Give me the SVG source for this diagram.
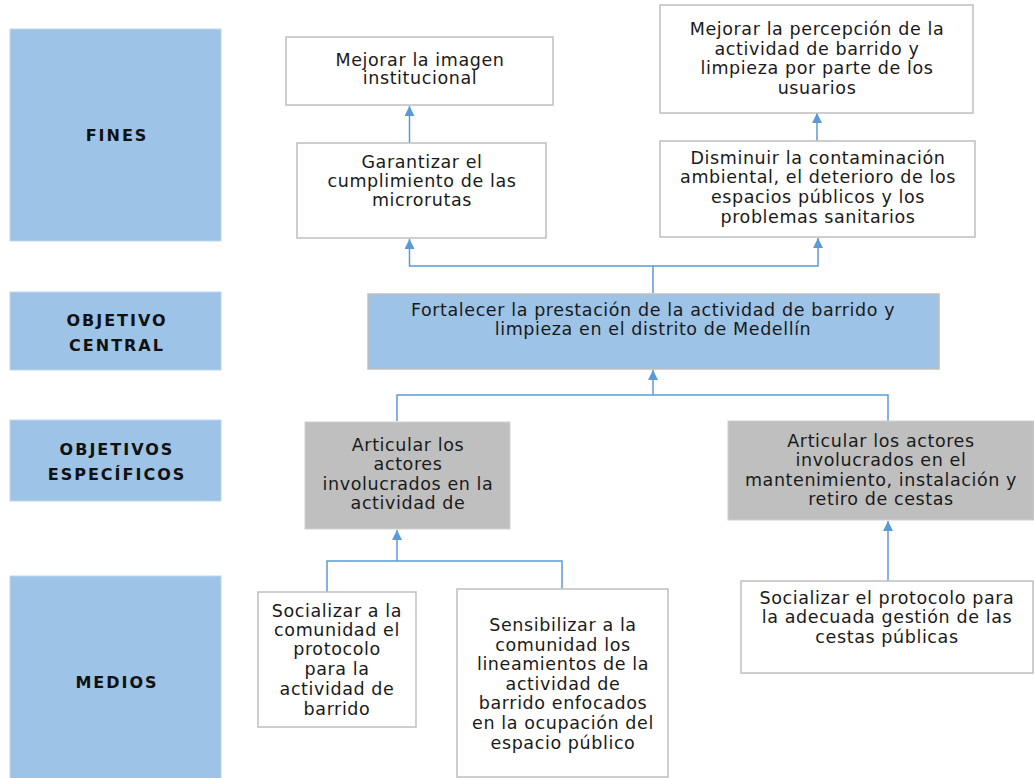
<svg xmlns="http://www.w3.org/2000/svg" width="1034" height="778" viewBox="0 0 1034 778">
<style>
.lbl{fill:#9DC3E6;stroke:#BDD7EE;stroke-width:1}
.lt{font-family:"DejaVu Sans","Liberation Sans",sans-serif;font-weight:bold;font-size:16px;letter-spacing:2px;fill:#111;text-anchor:middle}
.box{fill:#fff;stroke:#BFBFBF;stroke-width:1.5}
.gbox{fill:#BFBFBF;stroke:#D0D0D0;stroke-width:1}
.cbox{fill:#9DC3E6;stroke:#BFBFBF;stroke-width:1.5}
.t{font-family:"DejaVu Sans","Liberation Sans",sans-serif;font-size:17.5px;letter-spacing:0.6px;fill:#1a1a1a;text-anchor:middle}
.c{fill:none;stroke:#5B9BD5;stroke-width:1.5}
</style>
<defs>
<marker id="ah" markerUnits="userSpaceOnUse" markerWidth="10" markerHeight="10" viewBox="0 0 10 10" refX="10" refY="5" orient="auto">
<path d="M0,0 L10,5 L0,10 z" fill="#5B9BD5"/>
</marker>
</defs>
<rect width="1034" height="778" fill="#fff"/>
<g id="lbl-fines"><rect class="lbl" x="10" y="29" width="211" height="212"/><text class="lt" x="117" y="141">FINES</text></g>
<g id="lbl-central"><rect class="lbl" x="10" y="292" width="211" height="78"/><text class="lt" x="117" y="326">OBJETIVO</text><text class="lt" x="117" y="351">CENTRAL</text></g>
<g id="lbl-especificos"><rect class="lbl" x="10" y="420" width="211" height="81"/><text class="lt" x="117" y="455">OBJETIVOS</text><text class="lt" x="117" y="480">ESPECÍFICOS</text></g>
<g id="lbl-medios"><rect class="lbl" x="10" y="576" width="211" height="204"/><text class="lt" x="117" y="688">MEDIOS</text></g>

<g id="connectors">
<path class="c" d="M409.5 143 V106" marker-end="url(#ah)"/>
<path class="c" d="M817 141 V113" marker-end="url(#ah)"/>
<path class="c" d="M653 293 V266 H409.5 V239" marker-end="url(#ah)"/>
<path class="c" d="M653 266 H818 V238" marker-end="url(#ah)"/>
<path class="c" d="M397 421 V395 H888 V421"/>
<path class="c" d="M653 395 V370" marker-end="url(#ah)"/>
<path class="c" d="M327 592 V561 H562 V589"/>
<path class="c" d="M397 561 V530" marker-end="url(#ah)"/>
<path class="c" d="M888 581 V521" marker-end="url(#ah)"/>
</g>

<g id="fin-imagen"><rect class="box" x="286" y="37" width="267" height="68"/><text class="t"><tspan x="420" y="66">Mejorar la imagen</tspan><tspan x="420" y="84">institucional</tspan></text></g>
<g id="fin-percepcion"><rect class="box" x="660" y="5" width="313" height="108"/><text class="t"><tspan x="817" y="35">Mejorar la percepción de la</tspan><tspan x="817" y="55">actividad de barrido y</tspan><tspan x="817" y="74">limpieza por parte de los</tspan><tspan x="817" y="94">usuarios</tspan></text></g>
<g id="fin-garantizar"><rect class="box" x="297" y="143" width="249" height="95"/><text class="t"><tspan x="422" y="168">Garantizar el</tspan><tspan x="422" y="187">cumplimiento de las</tspan><tspan x="422" y="206">microrutas</tspan></text></g>
<g id="fin-disminuir"><rect class="box" x="660" y="141" width="315" height="96"/><text class="t"><tspan x="818" y="164">Disminuir la contaminación</tspan><tspan x="818" y="183">ambiental, el deterioro de los</tspan><tspan x="818" y="203">espacios públicos y los</tspan><tspan x="818" y="223">problemas sanitarios</tspan></text></g>

<g id="central"><rect class="cbox" x="368" y="294" width="571" height="75"/><text class="t"><tspan x="653" y="316">Fortalecer la prestación de la actividad de barrido y</tspan><tspan x="653" y="335">limpieza en el distrito de Medellín</tspan></text></g>

<g id="esp-1"><rect class="gbox" x="305" y="422" width="205" height="107"/><text class="t"><tspan x="408" y="451">Articular los</tspan><tspan x="408" y="470">actores</tspan><tspan x="408" y="490">involucrados en la</tspan><tspan x="408" y="509">actividad de</tspan></text></g>
<g id="esp-2"><rect class="gbox" x="728" y="421" width="306" height="99"/><text class="t"><tspan x="881" y="447">Articular los actores</tspan><tspan x="881" y="466">involucrados en el</tspan><tspan x="881" y="486">mantenimiento, instalación y</tspan><tspan x="881" y="505">retiro de cestas</tspan></text></g>

<g id="medio-1"><rect class="box" x="258" y="592" width="158" height="135"/><text class="t"><tspan x="337" y="617">Socializar a la</tspan><tspan x="337" y="636">comunidad el</tspan><tspan x="337" y="655">protocolo</tspan><tspan x="337" y="675">para la</tspan><tspan x="337" y="695">actividad de</tspan><tspan x="337" y="715">barrido</tspan></text></g>
<g id="medio-2"><rect class="box" x="457" y="589" width="211" height="188"/><text class="t"><tspan x="563" y="631">Sensibilizar a la</tspan><tspan x="563" y="651">comunidad los</tspan><tspan x="563" y="670">lineamientos de la</tspan><tspan x="563" y="690">actividad de</tspan><tspan x="563" y="709">barrido enfocados</tspan><tspan x="563" y="729">en la ocupación del</tspan><tspan x="563" y="749">espacio público</tspan></text></g>
<g id="medio-3"><rect class="box" x="741" y="581" width="292" height="92"/><text class="t"><tspan x="887" y="604">Socializar el protocolo para</tspan><tspan x="887" y="623">la adecuada gestión de las</tspan><tspan x="887" y="643">cestas públicas</tspan></text></g>
</svg>
